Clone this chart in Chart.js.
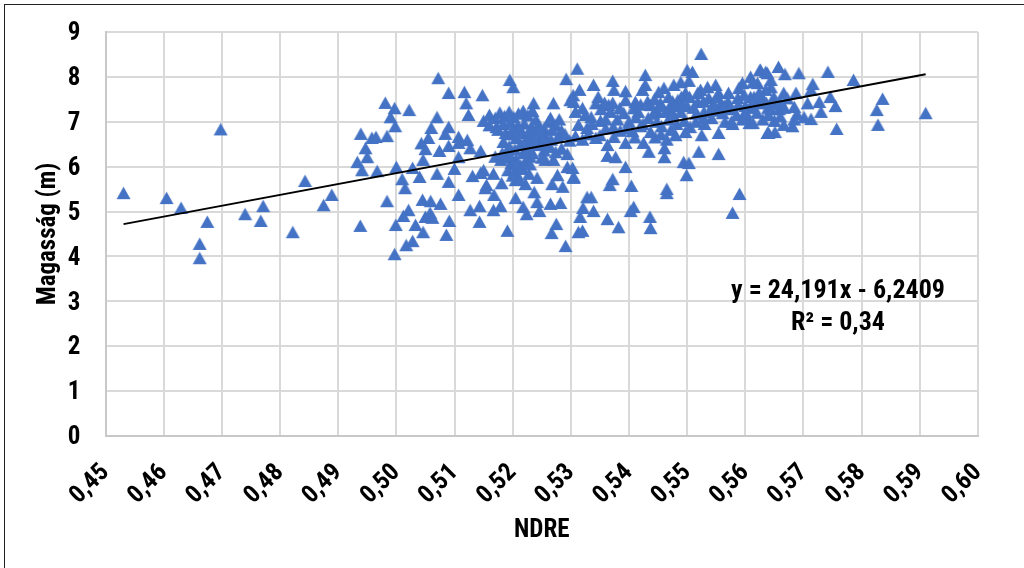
<!DOCTYPE html>
<html lang="hu">
<head>
<meta charset="utf-8">
<title>NDRE - Magasság</title>
<script src="https://cdn.jsdelivr.net/npm/chart.js@4/dist/chart.umd.min.js"></script>
<style>
    html, body { margin: 0; padding: 0; background: #fff; overflow: hidden; }
    #wrap { position: relative; width: 1024px; height: 568px; }
    #frame { position: absolute; left: 4px; top: 4px; width: 1020px; height: 564px; box-sizing: border-box;
             border-left: 1.5px solid #222; border-top: 1.5px solid #222; }
</style>
</head>
<body>
<div id="wrap">
    <canvas id="chart" width="1024" height="568"></canvas>
    <div id="frame"></div>
</div>
<script>
const ndre = [
    .4531,.4605,.4630,.4675,.4662,.4662,.4698,.4740,.4771,.4767,
    .4822,.4843,.4875,.4889,.4938,.4939,.4933,.4941,.4947,.4950,
    .4958,.4965,.4967,.4984,.4984,.4981,.4997,.4990,.4998,.5000,
    .4997,.4999,.5072,.5022,.5090,.5117,.5120,.5148,.5124,.5070,
    .5060,.5090,.5084,.5055,.5043,.5050,.5046,.5074,.5107,.5122,
    .5090,.5107,.5127,.5145,.5107,.5028,.5010,.5015,.5040,.5070,
    .5100,.5090,.5131,.5145,.5150,.5167,.5181,.5155,.5153,.5107,
    .5168,.5205,.5045,.5059,.5076,.5021,.5012,.5033,.5046,.5050,
    .5058,.5062,.5091,.5086,.5028,.5017,.5127,.5143,.5143,.5167,
    .5179,.5191,.5218,.5224,.5237,.5246,.5242,.5265,.5282,.5275,
    .5267,.5291,.5313,.5222,.5242,.5268,.5277,.5286,.5305,.5256,
    .5270,.5294,.5205,.5195,.5201,.5292,.5311,.5270,.5236,.5299,
    .5304,.5265,.5524,.5500,.5509,.5428,.5372,.5626,.5638,.5609,
    .5503,.5489,.5477,.5339,.5315,.5374,.5394,.5428,.5423,.5460,
    .5451,.5535,.5549,.5523,.5595,.5589,.5571,.5554,.5497,.5484,
    .5347,.5343,.5365,.5394,.5411,.5437,.5454,.5518,.5518,.5537,
    .5609,.5621,.5613,.5587,.5558,.5305,.5308,.5368,.5391,.5416,
    .5449,.5463,.5489,.5511,.5529,.5561,.5604,.5607,.5638,.5578,
    .5554,.5525,.5497,.5472,.5437,.5406,.5373,.5351,.5325,.5313,
    .5328,.5343,.5363,.5374,.5394,.5425,.5434,.5461,.5461,.5520,
    .5554,.5494,.5503,.5499,.5394,.5363,.5377,.5303,.5305,.5372,
    .5367,.5404,.5465,.5465,.5590,.5578,.5328,.5335,.5321,.5339,
    .5316,.5363,.5408,.5403,.5436,.5437,.5382,.5320,.5625,.5635,
    .5657,.5668,.5692,.5742,.5786,.5716,.5713,.5644,.5644,.5666,
    .5687,.5707,.5727,.5746,.5755,.5730,.5836,.5826,.5828,.5910,
    .5757,.5713,.5701,.5689,.5684,.5681,.5666,.5651,.5640,.5613,
    .5658,.5644,.5639,.5667,.5649,.5635,.5621,.5613,.5615,.5623,
    .5150,.5160,.5170,.5178,.5186,.5194,.5202,.5210,.5218,.5226,
    .5234,.5240,.5160,.5172,.5184,.5196,.5208,.5220,.5232,.5244,
    .5254,.5262,.5274,.5284,.5196,.5206,.5216,.5226,.5236,.5246,
    .5256,.5266,.5278,.5290,.5298,.5308,.5184,.5194,.5204,.5214,
    .5224,.5234,.5244,.5254,.5264,.5274,.5284,.5294,.5170,.5180,
    .5190,.5198,.5206,.5214,.5222,.5230,.5192,.5204,.5216,.5228,
    .5320,.5335,.5352,.5358,.5380,.5400,.5412,.5424,.5433,.5442,
    .5448,.5456,.5468,.5476,.5482,.5495,.5505,.5515,.5530,.5542,
    .5550,.5565,.5575,.5585,.5595,.5600,.5620,.5630,.5475,.5490,
    .5528,.5545,.5570,.5598,.5630,.5640,.5650,.5660,.5470,.5500,
    .5330,.5350,.5360,.5385,.5410,.5420,.5445,.5455,.5465,.5480,
    .5175,.5188,.5200,.5212,.5224,.5236,.5248,.5182,.5194,.5206,
    .5218,.5230,.5200,.5212,.5226,.5238,.5250,.5258,.5268,.5280,
    .5360,.5372,.5384,.5396,.5408,.5420,.5432,.5444,.5456,.5468,
    .5480,.5492,.5504,.5516,.5528,.5540,.5552,.5564,.5576,.5588,
    .5600,.5612,.5624,.5636,.5648,.5660,.5672,.5684,.5320,.5336
];
const magassag = [
    5.41,5.30,5.08,4.77,4.28,3.96,6.83,4.94,5.12,4.79,
    4.54,5.68,5.14,5.37,4.68,6.73,6.10,5.92,6.41,6.21,
    6.64,6.66,5.90,6.68,5.23,7.42,7.30,7.10,6.90,5.99,
    4.05,4.70,7.97,7.26,7.64,7.66,7.41,7.59,7.15,7.10,
    6.86,6.88,6.73,6.64,6.52,6.39,6.15,6.35,6.66,6.59,
    6.46,6.53,6.41,6.35,6.21,5.97,5.72,5.52,5.77,5.84,
    5.95,5.66,5.79,5.86,5.92,5.84,5.63,5.59,5.52,5.37,
    5.37,5.30,5.26,5.23,5.17,5.03,4.90,4.70,4.54,4.88,
    4.97,4.86,4.79,4.48,4.34,4.25,5.03,5.12,4.77,5.03,
    5.12,4.57,5.10,4.94,5.43,5.01,5.21,5.17,5.19,4.72,
    4.52,4.23,4.54,5.61,5.75,5.61,5.81,5.55,5.77,6.15,
    6.15,5.99,5.70,7.93,7.77,7.95,8.18,7.41,7.41,7.48,
    7.59,7.08,8.51,8.15,8.11,8.04,7.91,8.15,8.08,8.00,
    7.91,7.88,7.82,7.82,7.71,7.71,7.68,7.82,7.71,7.75,
    7.66,7.77,7.82,7.71,7.86,7.75,7.64,7.64,7.64,7.48,
    7.55,7.41,7.37,7.48,7.44,7.37,7.41,7.64,7.44,7.53,
    7.55,7.53,7.31,7.53,7.41,7.44,7.22,7.22,7.19,7.22,
    7.22,7.22,7.22,7.31,7.22,7.19,7.08,6.97,6.75,6.95,
    6.75,6.70,6.77,6.82,6.77,6.79,6.88,7.02,7.15,6.93,
    6.86,6.64,6.48,6.66,6.53,6.53,6.33,6.41,6.21,6.33,
    6.28,6.10,6.08,5.81,5.99,6.24,6.21,5.97,5.75,5.72,
    5.59,5.57,5.50,5.41,5.39,4.97,5.32,5.32,5.08,5.01,
    4.88,4.83,5.10,5.01,4.88,4.63,4.65,4.57,8.15,8.11,
    8.22,8.06,8.08,8.11,7.93,7.84,7.71,7.93,7.77,7.64,
    7.64,7.41,7.44,7.55,7.35,7.22,7.51,7.26,6.93,7.19,
    6.84,7.06,7.10,7.17,7.33,6.90,6.93,6.77,6.75,6.97,
    7.28,7.28,7.31,7.31,7.55,7.71,7.86,7.88,7.55,7.41,
    7.02,7.15,7.08,7.20,7.12,7.22,7.10,7.18,7.24,7.14,
    7.24,7.05,6.92,6.88,6.95,6.98,6.90,6.96,6.88,6.92,
    6.85,7.00,6.92,6.80,6.72,6.64,6.75,6.68,6.78,6.62,
    6.70,6.60,6.66,6.72,6.58,6.68,6.55,6.45,6.38,6.50,
    6.42,6.30,6.48,6.36,6.44,6.32,6.40,6.28,6.22,6.15,
    6.20,6.08,6.16,6.02,6.12,6.22,5.92,5.88,5.95,5.84,
    7.30,7.10,7.28,7.42,7.05,7.00,7.10,6.95,7.08,7.18,
    7.00,6.90,7.05,7.15,6.95,7.02,6.88,7.00,6.95,7.08,
    7.25,7.00,7.28,7.15,7.05,7.35,7.20,7.05,7.45,7.55,
    7.45,7.40,7.45,7.60,7.50,7.15,7.02,7.12,7.30,7.35,
    6.72,6.70,6.85,6.80,6.65,6.90,6.65,6.72,6.60,6.70,
    6.82,6.75,6.82,6.85,6.55,6.62,6.80,6.30,6.28,6.05,
    6.30,6.05,5.80,5.72,6.38,6.55,6.20,6.55,6.82,7.05,
    7.05,7.42,7.30,6.85,7.30,7.38,7.45,7.50,7.35,7.55,
    7.35,7.38,7.55,7.18,7.08,7.25,7.55,7.35,7.00,7.38,
    7.22,7.42,7.65,7.42,7.40,7.45,7.52,7.05,6.60,6.95
];
const trendX = [0.4531, 0.591];
const trendY = [4.72, 8.06];
const yTicks = [0, 1, 2, 3, 4, 5, 6, 7, 8, 9];
const xTickLabels = ['0,45','0,46','0,47','0,48','0,49','0,50','0,51','0,52','0,53','0,54','0,55','0,56','0,57','0,58','0,59','0,60'];
const equationLines = ['y = 24,191x - 6,2409', 'R² = 0,34'];

const fontName = 'Roboto, "Liberation Sans", sans-serif';

// marker as a small canvas, so the triangle sits centred on its value
function triangleMarker() {
    const c = document.createElement('canvas');
    c.width = 15;
    c.height = 14;
    const g = c.getContext('2d');
    g.fillStyle = '#4472C4';
    g.beginPath();
    g.moveTo(7.5, 0.5);
    g.lineTo(14.5, 13);
    g.lineTo(0.5, 13);
    g.closePath();
    g.fill();
    return c;
}

// condensed look of the original labels
const condensedText = {
    id: 'condensedText',
    beforeInit(chart) { chart.ctx.fontStretch = 'condensed'; },
    beforeDraw(chart) { chart.ctx.fontStretch = 'condensed'; }
};

const equationLabel = {
    id: 'equationLabel',
    afterDatasetsDraw(chart) {
        const ctx = chart.ctx;
        ctx.save();
        ctx.font = 'bold 26px ' + fontName;
        ctx.fontStretch = 'condensed';
        ctx.fillStyle = '#000';
        ctx.textAlign = 'center';
        ctx.textBaseline = 'middle';
        ctx.fillText(equationLines[0], 838, 291);
        ctx.fillText(equationLines[1], 838, 323);
        ctx.restore();
    }
};

const canvas = document.getElementById('chart');
canvas.getContext('2d').fontStretch = 'condensed';

new Chart(canvas, {
    type: 'scatter',
    data: {
        datasets: [
            {
                data: ndre.map((x, i) => ({ x: x, y: magassag[i] })),
                pointStyle: triangleMarker(),
                pointRadius: 7,
                showLine: false,
                order: 2
            },
            {
                type: 'line',
                data: trendX.map((x, i) => ({ x: x, y: trendY[i] })),
                borderColor: '#000',
                borderWidth: 2,
                pointRadius: 0,
                order: 1
            }
        ]
    },
    options: {
        responsive: false,
        animation: false,
        layout: { padding: { top: 32, right: 46, left: 0, bottom: 0 } },
        plugins: { legend: { display: false }, tooltip: { enabled: false } },
        scales: {
            x: {
                type: 'linear',
                min: 0.45,
                max: 0.6,
                afterBuildTicks(axis) {
                    axis.ticks = xTickLabels.map(t => ({ value: parseFloat(t.replace(',', '.')) }));
                },
                afterFit(axis) {
                    axis.height = 132;
                    axis.paddingLeft = 0;
                    axis.paddingRight = 0;
                },
                grid: { color: '#D9D9D9', lineWidth: 2, drawTicks: false },
                border: { color: '#C8C8C8', width: 2 },
                ticks: {
                    autoSkip: false,
                    minRotation: 45,
                    maxRotation: 45,
                    padding: 22,
                    color: '#000',
                    font: { family: fontName, size: 25, weight: 'bold' },
                    callback: (v, i) => xTickLabels[i]
                },
                title: {
                    display: true,
                    text: 'NDRE',
                    color: '#000',
                    font: { family: fontName, size: 25, weight: 'bold' },
                    padding: { top: 0, bottom: 22 }
                }
            },
            y: {
                min: 0,
                max: 9,
                afterBuildTicks(axis) {
                    axis.ticks = yTicks.map(v => ({ value: v }));
                },
                afterFit(axis) {
                    axis.width = 105.5;
                    axis.paddingTop = 0;
                    axis.paddingBottom = 0;
                },
                grid: { color: '#D9D9D9', lineWidth: 2, drawTicks: false },
                border: { color: '#C8C8C8', width: 2 },
                ticks: {
                    padding: 25,
                    labelOffset: 2,
                    color: '#000',
                    font: { family: fontName, size: 25, weight: 'bold' }
                },
                title: {
                    display: true,
                    text: 'Magasság (m)',
                    color: '#000',
                    font: { family: fontName, size: 25, weight: 'bold' },
                    padding: { top: 34, bottom: 0 }
                }
            }
        }
    },
    plugins: [condensedText, equationLabel]
});
</script>
</body>
</html>
